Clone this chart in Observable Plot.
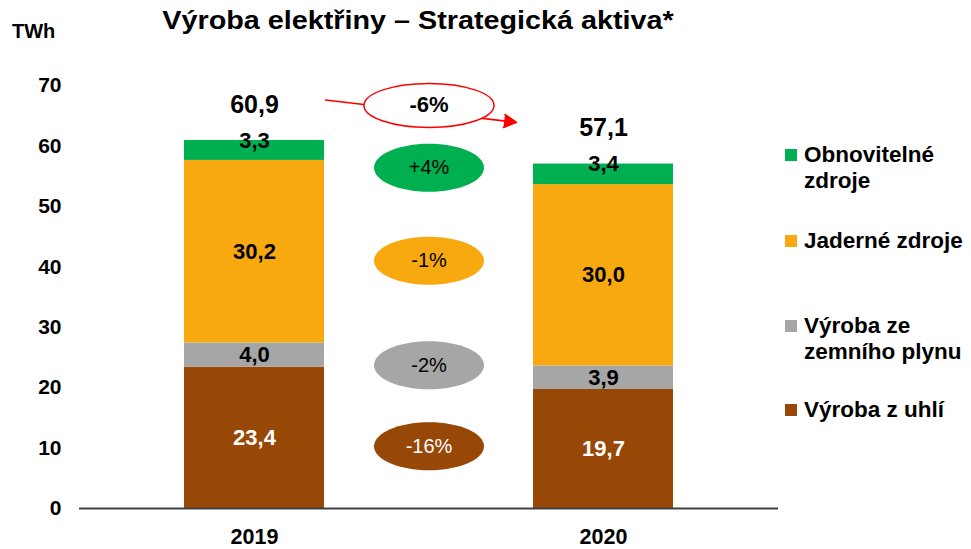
<!DOCTYPE html>
<html>
<head>
<meta charset="utf-8">
<script src="https://cdn.jsdelivr.net/npm/d3@7"></script>
<script src="https://cdn.jsdelivr.net/npm/@observablehq/plot@0.6"></script>
<style>
  body { margin: 0; background: white; }
  #wrap { position: relative; width: 971px; height: 549px; font-family: 'Liberation Sans', Arial, sans-serif; color: #000; overflow: hidden; }
  #chart { position: absolute; left: 0; top: 0; }
  .title { position: absolute; left: 0; top: 5px; width: 836px; text-align: center; font-weight: bold; font-size: 25px; line-height: 30px; transform: scaleX(1.15); transform-origin: 418px 0; white-space: nowrap; }
  .unit { position: absolute; left: 12px; top: 21px; font-weight: bold; font-size: 20px; line-height: 20px; }
  .leg { position: absolute; left: 804px; font-weight: bold; font-size: 22.5px; line-height: 26px; white-space: nowrap; }
  .sq { position: absolute; left: 785px; width: 12px; height: 12px; }
</style>
</head>
<body>
<div id="wrap">
  <div id="chart"></div>
  <div class="title">Výroba elektřiny – Strategická aktiva*</div>
  <div class="unit">TWh</div>
  <div id="legend"></div>
</div>
<script>
// ---- data ----
const years = ["2019", "2020"];
const sources = ["Výroba z uhlí", "Výroba ze zemního plynu", "Jaderné zdroje", "Obnovitelné zdroje"];
const coal = [23.4, 19.7];
const gas = [4.0, 3.9];
const nuclear = [30.2, 30.0];
const renewables = [3.3, 3.4];
const totals = [60.9, 57.1];
const colors = ["#974706", "#A6A6A6", "#F8A90F", "#00B050"];
const yTicks = [0, 10, 20, 30, 40, 50, 60, 70];

// change annotations (label and vertical position in TWh units)
const changeLabels = ["-6%", "+4%", "-1%", "-2%", "-16%"];
const changeY = [66.7, 56.4, 41.0, 23.7, 10.3];
const changeFill = ["white", "#00B050", "#F8A90F", "#A6A6A6", "#974706"];
const changeText = ["black", "black", "black", "black", "white"];

// total-change arrow endpoints (TWh units)
const arrowY = [69.0, 62.2];

// legend (top to bottom)
const legendOrder = ["Obnovitelné zdroje", "Jaderné zdroje", "Výroba ze zemního plynu", "Výroba z uhlí"];
const legendLines = [["Obnovitelné", "zdroje"], ["Jaderné zdroje"], ["Výroba ze", "zemního plynu"], ["Výroba z uhlí"]];

// ---- build tables ----
const seriesArr = [coal, gas, nuclear, renewables];
const rows = years.flatMap((year, i) => seriesArr.map((arr, j) => ({year, source: sources[j], value: arr[i]})));
const totalRows = years.map((year, i) => ({year, total: totals[i]}));
const fmt = v => v.toFixed(1).replace(".", ",");
const annots = changeLabels.map((label, i) => ({label, y: changeY[i], fill: changeFill[i], text: changeText[i]}));

function ellipse(rx, ry) {
  const k = 0.5522847498;
  return {
    draw(ctx) {
      ctx.moveTo(rx, 0);
      ctx.bezierCurveTo(rx, ry * k, rx * k, ry, 0, ry);
      ctx.bezierCurveTo(-rx * k, ry, -rx, ry * k, -rx, 0);
      ctx.bezierCurveTo(-rx, -ry * k, -rx * k, -ry, 0, -ry);
      ctx.bezierCurveTo(rx * k, -ry, rx, -ry * k, rx, 0);
      ctx.closePath();
    }
  };
}

const annotMarks = annots.flatMap((a, i) => {
  const sym = i === 0 ? ellipse(65, 22) : ellipse(55, 24);
  return [
    Plot.dot([a], {y: "y", symbol: sym, fill: a.fill, stroke: i === 0 ? "#FF0000" : "none", strokeWidth: 1.5}),
    Plot.text([a], {y: "y", text: "label", fill: a.text, fontSize: i === 0 ? 22 : 20, fontWeight: i === 0 ? "bold" : "normal"})
  ];
});

const chart = Plot.plot({
  width: 971,
  height: 549,
  marginLeft: 79,
  marginRight: 193,
  marginTop: 85,
  marginBottom: 41,
  x: {domain: years, paddingInner: 0.6, paddingOuter: 0.3},
  y: {domain: [0, 70]},
  color: {domain: sources, range: colors},
  style: {fontFamily: "'Liberation Sans', Arial, sans-serif", background: "white", color: "black", overflow: "visible"},
  marks: [
    Plot.axisY(yTicks, {tickSize: 0, tickPadding: 18, fontSize: 21, fontWeight: "bold", label: null}),
    Plot.axisX(years, {tickSize: 0, tickPadding: 20, fontSize: 21.5, fontWeight: "bold", label: null}),
    Plot.barY(rows, {x: "year", y: "value", fill: "source"}),
    Plot.ruleY([0], {stroke: "#404040", strokeWidth: 2}),
    Plot.arrow([{}], {
      x1: () => years[0], x2: () => years[1], y1: () => arrowY[0], y2: () => arrowY[1],
      stroke: "#FF0000", fill: "#FF0000", strokeWidth: 1.5, headLength: 14, headAngle: 56,
      insetStart: 71.5, insetEnd: 87.6
    }),
    ...annotMarks,
    Plot.text(rows, Plot.stackY({x: "year", y: "value", text: d => d.source === sources[0] ? fmt(d.value) : "", fill: "white", fontSize: 22, fontWeight: "bold"})),
    Plot.text(rows, Plot.stackY({x: "year", y: "value", text: d => (d.source === sources[1] || d.source === sources[2]) ? fmt(d.value) : "", fill: "black", fontSize: 22, fontWeight: "bold"})),
    Plot.text(rows, Plot.stackY({x: "year", y: "value", text: d => d.source === sources[3] ? fmt(d.value) : "", fill: "black", fontSize: 22, fontWeight: "bold", dy: -10})),
    Plot.text(totalRows, {x: "year", y: "total", text: d => fmt(d.total), fontSize: 25, fontWeight: "bold", dy: -35})
  ]
});
document.getElementById("chart").appendChild(chart);

// ---- legend ----
const legendTops = [142, 228, 313, 397];
const legend = document.getElementById("legend");
legendOrder.forEach((name, i) => {
  const sq = document.createElement("div");
  sq.className = "sq";
  sq.style.top = (legendTops[i] + 7) + "px";
  sq.style.background = colors[sources.indexOf(name)];
  legend.appendChild(sq);
  const t = document.createElement("div");
  t.className = "leg";
  t.style.top = legendTops[i] + "px";
  t.innerHTML = legendLines[i].join("<br>");
  legend.appendChild(t);
});
</script>
</body>
</html>
